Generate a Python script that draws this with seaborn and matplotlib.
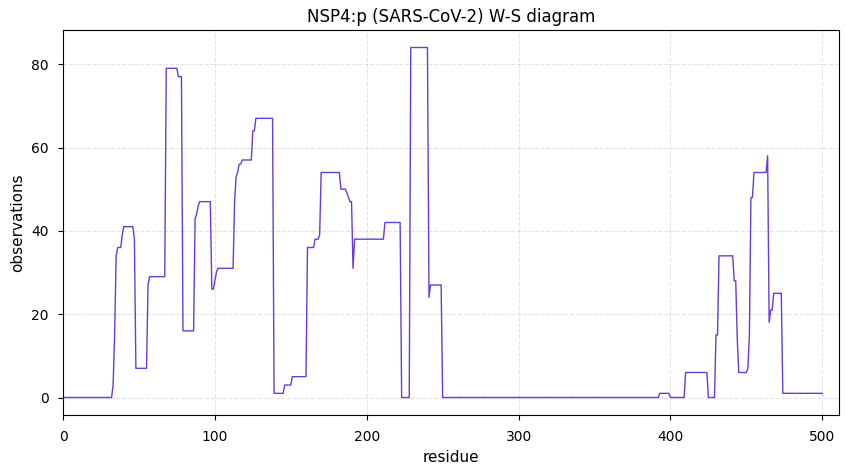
import numpy as np
import pandas as pd
import matplotlib
matplotlib.use("Agg")
import matplotlib.pyplot as plt
import seaborn as sns

run_values = [0, 3, 15, 34, 36, 39, 41, 38, 7, 27, 29, 79, 77, 16, 43, 44, 46, 47,
              26, 28, 30, 31, 47, 53, 54, 56, 57, 64, 67, 1, 3, 5, 36, 38, 39, 54,
              50, 49, 48, 47, 31, 38, 42, 0, 84, 24, 27, 0, 1, 0, 6, 0, 15, 34,
              28, 14, 6, 7, 15, 48, 54, 58, 18, 21, 25, 1]
run_lengths = [33, 1, 1, 1, 3, 1, 7, 1, 8, 1, 11, 8, 3, 8, 1, 1, 1, 8,
               2, 1, 1, 11, 1, 1, 1, 2, 7, 2, 12, 7, 5, 10, 5, 3, 1, 13,
               4, 1, 1, 2, 1, 20, 11, 6, 12, 1, 8, 143, 7, 10, 15, 5, 2, 10,
               2, 1, 6, 1, 1, 2, 9, 1, 1, 2, 6, 27]

title = "NSP4:p (SARS-CoV-2) W-S diagram"
line_color = "#6a3bd6"

observations = np.repeat(run_values, run_lengths)
df = pd.DataFrame({"residue": np.arange(len(observations)),
                   "observations": observations})

fig = plt.figure(figsize=(8.47, 4.74), dpi=100)
ax = fig.add_axes([63 / 847, 1 - 415 / 474, 776 / 847, 385 / 474])

sns.lineplot(data=df, x="residue", y="observations", ax=ax,
             color=line_color, linewidth=1.0)

ax.set_xlim(0, 511)
ax.set_xticks([0, 100, 200, 300, 400, 500])
ax.set_yticks([0, 20, 40, 60, 80])
ax.tick_params(axis="x", pad=7.5)
ax.tick_params(axis="y", pad=7)
ax.grid(True, linestyle="--", color="#b0b0b0", alpha=0.35)
ax.set_title(title, fontsize=12)
ax.set_xlabel("residue", fontsize=11)
ax.set_ylabel("observations", fontsize=11)

fig.savefig("out.png", dpi=100)
